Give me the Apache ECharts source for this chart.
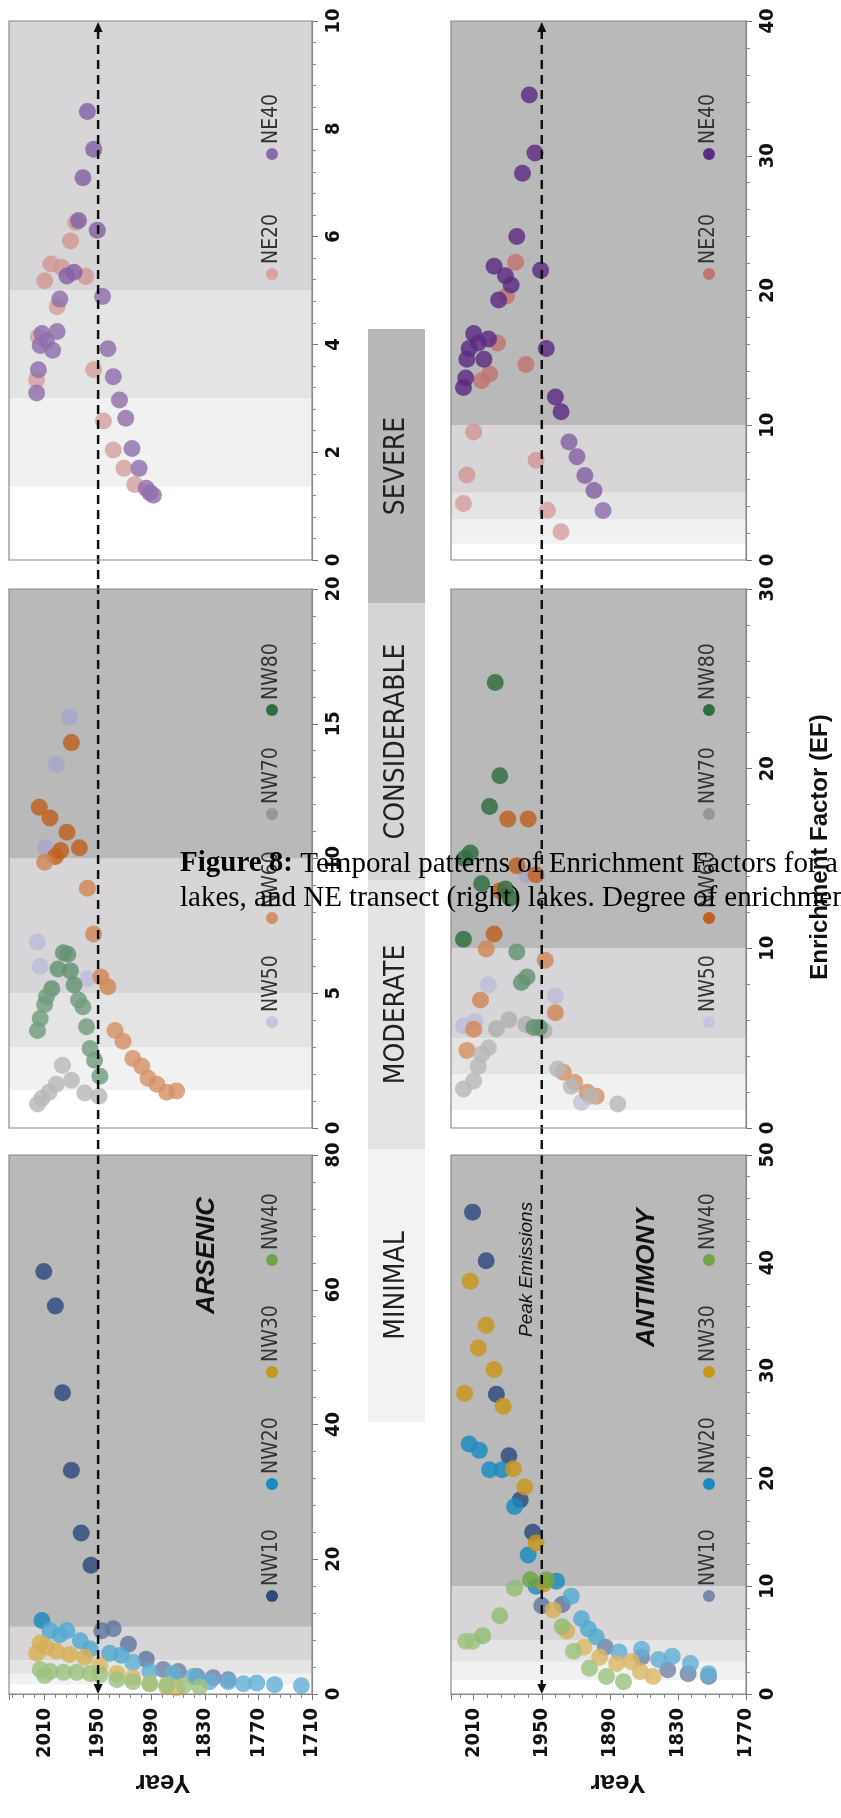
<!DOCTYPE html>
<html>
<head>
<meta charset="utf-8">
<script src="https://cdn.jsdelivr.net/npm/echarts@6/dist/echarts.min.js"></script>
<style>
  html, body { margin: 0; padding: 0; background: #fff; }
  #chart { width: 841px; height: 1818px; }
</style>
</head>
<body>
<div id="chart"></div>
<script>
// ---- data: [year, EF] per lake, As = arsenic (left column), Sb = antimony (right column)
var as_NE20 = [[1975,6.26],[1981,5.92],[2003,5.49],[2010,5.18],[1964,5.26],[1991,5.43],[1996,4.70],[2017,4.14],[2019,3.35],[1955,3.53],[1944,2.58],[1933,2.04],[1921,1.70],[1909,1.40]];
var as_NE40 = [[1962,8.32],[1955,7.62],[1967,7.09],[1972,6.30],[1951,6.12],[1985,5.27],[1977,5.34],[1993,4.84],[1945,4.89],[2013,4.20],[1996,4.24],[2015,3.98],[2001,3.89],[2008,4.07],[2017,3.53],[2019,3.10],[1939,3.92],[1933,3.40],[1926,2.97],[1919,2.63],[1912,2.07],[1904,1.70],[1896,1.33],[1892,1.25],[1888,1.20]];
var sb_NE20 = [[1973,22.1],[1981,19.6],[1989,16.1],[1996,13.8],[2003,13.3],[1964,14.5],[2010,9.5],[2016,6.3],[2019,4.2],[1955,7.4],[1945,3.7],[1933,2.1]];
var sb_NE40 = [[1961,34.5],[1956,30.2],[1967,28.7],[1972,24.0],[1992,21.8],[1982,21.1],[1977,20.4],[1988,19.3],[1951,21.5],[2010,16.8],[1997,16.4],[2014,15.7],[2006,16.1],[2016,14.9],[2001,14.9],[2017,13.5],[2019,12.8],[1946,15.7],[1938,12.1],[1933,11.0],[1926,8.75],[1919,7.66],[1912,6.27],[1904,5.15],[1896,3.68]];

var as_NW50 = [[1982,15.25],[1997,13.5],[2009,10.4],[2018,6.9],[2015,6.0],[1962,5.54]];
var as_NW60 = [[1980,14.3],[2016,11.9],[2004,11.5],[1985,10.97],[1971,10.4],[1992,10.3],[1998,10.07],[2010,9.86],[1962,8.9],[1955,7.2],[1947,5.6],[1939,5.24],[1931,3.62],[1922,3.22],[1911,2.58],[1901,2.29],[1894,1.85],[1884,1.62],[1873,1.33],[1862,1.37]];
var as_NW70 = [[2018,0.89],[2013,1.1],[2005,1.33],[1997,1.62],[1990,2.33],[1980,1.77],[1965,1.3],[1949,1.18]];
var as_NW80 = [[1989,6.5],[1984,6.45],[1995,5.9],[1981,5.83],[1977,5.31],[2002,5.17],[2008,4.87],[1972,4.75],[1967,4.5],[2010,4.58],[2015,4.06],[2018,3.62],[1963,3.76],[1959,2.95],[1954,2.51],[1948,1.92]];
var sb_NW50 = [[1963,14.1],[1997,7.97],[1938,7.35],[2019,5.69],[2009,5.91],[1915,1.44]];
var sb_NW60 = [[1980,17.2],[1962,17.2],[1972,14.6],[1955,14.1],[1987,13.2],[1992,10.8],[1999,9.96],[1947,9.34],[2004,7.13],[1938,6.42],[2010,5.49],[2016,4.32],[1931,3.1],[1921,2.55],[1910,1.99],[1902,1.77]];
var sb_NW70 = [[1979,6.02],[1990,5.53],[1964,5.76],[1948,5.42],[1997,4.47],[2003,4.1],[2006,3.43],[2010,2.61],[2019,2.17],[1936,3.28],[1924,2.32],[1907,1.77],[1883,1.33]];
var sb_NW80 = [[1991,24.8],[1987,19.6],[1996,17.9],[2013,15.3],[2018,15.0],[2003,13.6],[1982,13.3],[1978,12.8],[2019,10.5],[1972,9.8],[1963,8.4],[1968,8.1],[1957,5.6],[1952,5.6]];

var as_NW10 = [[2011,62.7],[1998,57.6],[1990,44.7],[1980,33.2],[1969,23.9],[1958,19.1],[1946,9.4],[1933,9.7],[1916,7.4],[1896,5.15],[1877,3.64],[1860,3.33],[1839,2.6],[1821,2.42],[1804,2.12]];
var as_NW20 = [[2013,10.9],[2004,9.4],[1993,8.8],[1985,9.4],[1970,7.9],[1959,6.67],[1937,6.06],[1924,5.76],[1911,4.67],[1892,3.33],[1866,3.03],[1843,2.6],[1825,1.82],[1804,1.82],[1787,1.52],[1772,1.64],[1752,1.39],[1722,1.21]];
var as_NW30 = [[2015,7.58],[2008,6.97],[1997,6.36],[1982,5.88],[1965,5.45],[2019,6.06],[1948,4.24],[1929,3.03],[1911,2.42],[1892,1.52],[1873,1.03],[1862,0.91]];
var as_NW40 = [[2015,3.64],[2004,3.33],[1989,3.21],[1974,3.21],[1959,3.03],[1948,2.85],[1929,2.12],[1911,1.82],[1892,1.52],[1873,1.33],[1854,1.21],[1836,1.03],[2010,2.73]];
var sb_NW10 = [[2011,44.7],[1999,40.2],[1990,27.8],[1979,22.1],[1969,18.0],[1958,15.0],[1950,8.2],[1932,8.3],[1894,4.34],[1862,3.4],[1839,2.26],[1821,1.89],[1803,1.62]];
var sb_NW20 = [[2014,23.2],[2005,22.6],[1996,20.8],[1985,20.8],[1974,17.4],[1962,12.9],[1955,10.0],[1937,10.45],[1924,9.06],[1915,6.98],[1909,6.04],[1902,5.28],[1882,3.89],[1862,4.15],[1847,3.21],[1835,3.51],[1819,2.83],[1803,1.89]];
var sb_NW30 = [[2013,38.3],[1999,34.2],[2018,27.9],[2006,32.1],[1992,30.1],[1984,26.7],[1975,20.9],[1965,19.2],[1955,14.0],[1948,10.2],[1940,7.8],[1928,5.85],[1913,4.34],[1899,3.4],[1884,2.83],[1871,3.02],[1863,2.08],[1852,1.62]];
var sb_NW40 = [[2017,4.9],[2011,4.9],[2002,5.4],[1987,7.25],[1974,9.8],[1960,10.6],[1946,10.6],[1932,6.23],[1922,3.96],[1908,2.38],[1893,1.62],[1878,1.13]];

// axis ranges (col 0 = arsenic, col 1 = antimony)
var yearMin = [1710, 1770];
var yearMax = [2050, 2030];
var efMax = [[10, 40], [20, 30], [80, 50]];
var efStep = [[2, 10], [5, 10], [20, 10]];
// enrichment classes: lower limit of "minimal" band per panel, then 3 / 5 / 10
var minimalFrom = [[1.36, 1.2], [1.4, 1.0], [1.4, 1.3]];
var classEdges = [3, 5, 10];
var classNames = ['SEVERE', 'CONSIDERABLE', 'MODERATE', 'MINIMAL'];
var peakYear = 1950;

var panels = [
  [ [['NE20', as_NE20], ['NE40', as_NE40]],
    [['NE20', sb_NE20], ['NE40', sb_NE40]] ],
  [ [['NW50', as_NW50], ['NW60', as_NW60], ['NW70', as_NW70], ['NW80', as_NW80]],
    [['NW50', sb_NW50], ['NW60', sb_NW60], ['NW70', sb_NW70], ['NW80', sb_NW80]] ],
  [ [['NW10', as_NW10], ['NW20', as_NW20], ['NW30', as_NW30], ['NW40', as_NW40]],
    [['NW10', sb_NW10], ['NW20', sb_NW20], ['NW30', sb_NW30], ['NW40', sb_NW40]] ]
];

// ---- styling
var NARROW = '"Liberation Sans Narrow", "DejaVu Sans Condensed", sans-serif';
var SANS = '"Liberation Sans", Arial, sans-serif';
var SERIF = '"Liberation Serif", "Times New Roman", serif';
var colX = [9, 451], colW = [303, 295];
var rowY = [21, 589, 1155], rowH = 539;
var bandColors = ['#ffffff', '#f1f1f1', '#e4e4e4', '#d7d5d7', '#b9b9b9'];
var stripColors = ['#b9b8b9', '#d7d5d7', '#e4e4e4', '#f2f2f2'];
var stripY = [329, 603, 880, 1149, 1422];
var COLORS = {
  NE20: '#c27471', NE40: '#5b2c83',
  NW10: '#2d4a7d', NW20: '#1a8bc0', NW30: '#c9961c', NW40: '#6fa544',
  NW50: '#a6a6cc', NW60: '#c0601f', NW70: '#969696', NW80: '#2f6e40'
};
// how much the legend dot is lightened, per panel
var legendShade = [
  [[0.35, 0.3], [0, 0]],
  [[0.35, 0.3, 0, 0], [0.35, 0, 0, 0]],
  [[0, 0, 0, 0], [0.35, 0, 0, 0]]
];
var legendX = [272, 709];
var legendFirstY = [274, 1022, 1596];
var legendGap = [120, 104, 112];

function mix(hex, t) {
  var n = parseInt(hex.slice(1), 16);
  var r = n >> 16, g = (n >> 8) & 255, b = n & 255;
  r = Math.round(r + (255 - r) * t);
  g = Math.round(g + (255 - g) * t);
  b = Math.round(b + (255 - b) * t);
  return 'rgb(' + r + ',' + g + ',' + b + ')';
}
function pointColor(name) {
  return function (p) {
    var ef = p.value[1];
    if (ef >= 10) return COLORS[name];
    if (ef >= 5) return mix(COLORS[name], 0.25);
    return mix(COLORS[name], 0.32);
  };
}

var grids = [], xAxes = [], yAxes = [], series = [], graphics = [];

for (var r = 0; r < 3; r++) {
  for (var c = 0; c < 2; c++) {
    var p = grids.length;
    var bottom = r === 2;
    grids.push({ left: colX[c], top: rowY[r], width: colW[c], height: rowH, show: false });
    xAxes.push({
      type: 'value', gridIndex: p, inverse: true,
      min: yearMin[c], max: yearMax[c], interval: 60,
      axisLine: { show: bottom, lineStyle: { color: '#8a8a8a', width: 1.2 } },
      axisTick: { show: bottom, length: 6, lineStyle: { color: '#777' } },
      minorTick: { show: bottom, splitNumber: 5, length: 4, lineStyle: { color: '#888' } },
      splitLine: { show: false },
      axisLabel: {
        show: bottom, rotate: 90, margin: 14,
        fontFamily: NARROW, fontWeight: 'bold', fontSize: 20, color: '#111',
        formatter: (function (cc) {
          return function (v) { return (v - yearMin[cc]) % 60 === 0 ? String(v) : ''; };
        })(c)
      }
    });
    yAxes.push({
      type: 'value', gridIndex: p, position: 'right',
      min: 0, max: efMax[r][c], interval: efStep[r][c],
      axisLine: { show: true, lineStyle: { color: '#8a8a8a', width: 1.2 } },
      axisTick: { show: true, length: 6, lineStyle: { color: '#777' } },
      minorTick: { show: true, splitNumber: 5, length: 4, lineStyle: { color: '#888' } },
      splitLine: { show: false },
      axisLabel: {
        rotate: 90, margin: 12,
        fontFamily: NARROW, fontWeight: 'bold', fontSize: 20, color: '#111'
      }
    });

    // enrichment class bands
    var edges = [0, minimalFrom[r][c]].concat(classEdges).concat([efMax[r][c]]);
    var areas = [];
    for (var k = 0; k < edges.length - 1; k++) {
      var lo = edges[k], hi = Math.min(edges[k + 1], efMax[r][c]);
      if (lo >= efMax[r][c]) break;
      areas.push([{ yAxis: lo, itemStyle: { color: bandColors[k] } }, { yAxis: hi }]);
    }
    series.push({
      type: 'scatter', xAxisIndex: p, yAxisIndex: p, data: [], silent: true, z: 1,
      markArea: { silent: true, data: areas }
    });

    panels[r][c].forEach(function (s, i) {
      series.push({
        name: s[0], type: 'scatter', xAxisIndex: p, yAxisIndex: p,
        data: s[1], symbolSize: 17, z: 3 + i,
        itemStyle: { color: pointColor(s[0]), opacity: 0.82 }
      });
      // in-panel legend
      var ly = legendFirstY[r] - i * legendGap[r];
      graphics.push({
        type: 'circle', z: 60,
        shape: { cx: legendX[c], cy: ly, r: 6 },
        style: { fill: mix(COLORS[s[0]], legendShade[r][c][i]) }
      });
      graphics.push({
        type: 'text', z: 60, x: legendX[c], y: ly - 10, rotation: Math.PI / 2,
        style: {
          text: s[0], font: '21px ' + NARROW, fill: '#333',
          textAlign: 'left', textVerticalAlign: 'middle', align: 'left', verticalAlign: 'middle'
        }
      });
    });

    // panel frame
    graphics.push({
      type: 'rect', z: 50, silent: true,
      shape: { x: colX[c], y: rowY[r], width: colW[c], height: rowH },
      style: { fill: 'none', stroke: '#8a8a8a', lineWidth: 1.2 }
    });
  }
}

// class key strip in the middle
classNames.forEach(function (name, i) {
  graphics.push({
    type: 'rect', z: 5,
    shape: { x: 368, y: stripY[i], width: 57, height: stripY[i + 1] - stripY[i] },
    style: { fill: stripColors[i] }
  });
  graphics.push({
    type: 'text', z: 6, x: 397, y: (stripY[i] + stripY[i + 1]) / 2, rotation: Math.PI / 2,
    style: {
      text: name, font: '28px ' + NARROW, fill: '#222',
      textAlign: 'center', textVerticalAlign: 'middle', align: 'center', verticalAlign: 'middle'
    }
  });
});

function vtext(txt, x, y, font, align, rot) {
  return {
    type: 'text', z: 70, x: x, y: y, rotation: rot === undefined ? Math.PI / 2 : rot,
    style: {
      text: txt, font: font, fill: '#111',
      textAlign: align, textVerticalAlign: 'middle', align: align, verticalAlign: 'middle'
    }
  };
}
graphics.push(vtext('ARSENIC', 207, 1314, 'italic bold 26px ' + SANS, 'left'));
graphics.push(vtext('ANTIMONY', 647, 1347, 'italic bold 26px ' + SANS, 'left'));
graphics.push(vtext('Peak Emissions', 527, 1337, 'italic 19px ' + SANS, 'left'));
graphics.push(vtext('Enrichment Factor (EF)', 820, 847, 'bold 24px ' + SANS, 'center'));
graphics.push(vtext('Year', 163, 1782, 'bold 26px ' + SANS, 'center', Math.PI));
graphics.push(vtext('Year', 618, 1782, 'bold 26px ' + SANS, 'center', Math.PI));

// caption text overlapping the figure
graphics.push({
  type: 'text', z: 80, x: 180, y: 864,
  style: {
    text: '{b|Figure 8:} Temporal patterns of Enrichment Factors for a',
    font: '29px ' + SERIF, fill: '#000',
    textVerticalAlign: 'middle', verticalAlign: 'middle',
    rich: { b: { fontWeight: 'bold', fontSize: 29, fontFamily: SERIF } }
  }
});
graphics.push({
  type: 'text', z: 80, x: 180, y: 898,
  style: {
    text: 'lakes, and NE transect (right) lakes. Degree of enrichment',
    font: '29px ' + SERIF, fill: '#000',
    textVerticalAlign: 'middle', verticalAlign: 'middle'
  }
});

var chart = echarts.init(document.getElementById('chart'), null, { renderer: 'canvas' });
chart.setOption({
  animation: false,
  backgroundColor: '#fff',
  grid: grids, xAxis: xAxes, yAxis: yAxes, series: series
});

// peak emission line with arrows, placed on 1950 through the year scales
var yTop = rowY[0] + 1, yBot = rowY[2] + rowH;
[0, 1].forEach(function (c) {
  var px = chart.convertToPixel({ xAxisIndex: c }, peakYear);
  graphics.push({
    type: 'line', z: 40, silent: true,
    shape: { x1: px, y1: yTop + 8, x2: px, y2: yBot - 8 },
    style: { stroke: '#111', lineWidth: 2.5, lineDash: [9, 6] }
  });
  graphics.push({
    type: 'polygon', z: 40, silent: true,
    shape: { points: [[px, yTop], [px - 4.5, yTop + 10], [px + 4.5, yTop + 10]] },
    style: { fill: '#111' }
  });
  graphics.push({
    type: 'polygon', z: 40, silent: true,
    shape: { points: [[px, yBot], [px - 4.5, yBot - 10], [px + 4.5, yBot - 10]] },
    style: { fill: '#111' }
  });
});

chart.setOption({ graphic: graphics });
</script>
</body>
</html>
